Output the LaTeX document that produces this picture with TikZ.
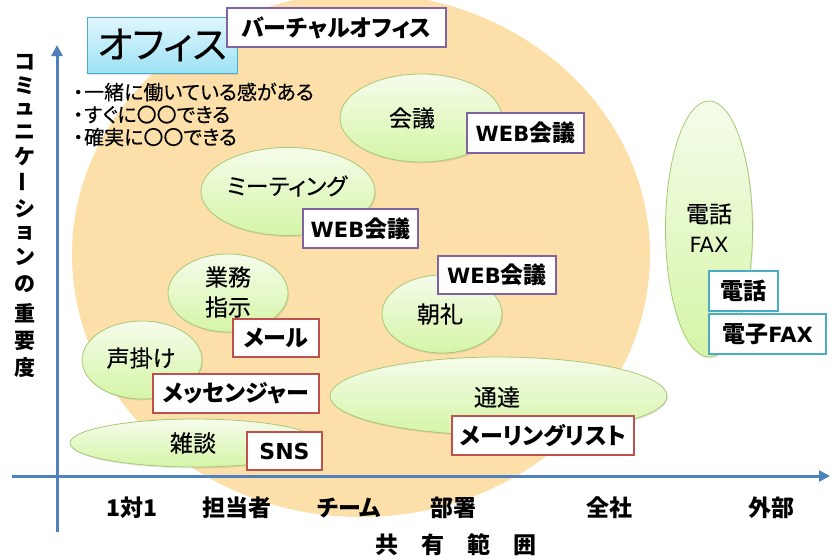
\documentclass[tikz,border=0pt]{standalone}
\usepackage{fontspec}
\setmainfont[RawFeature=+palt]{Noto Sans CJK JP}
\newfontfamily\jpmed[RawFeature=+palt,FakeBold=0.35]{Noto Sans CJK JP}
\newfontfamily\lat{DejaVu Sans}
\usetikzlibrary{shapes.geometric,arrows.meta,shadows}
\definecolor{axisblue}{RGB}{79,129,189}
\definecolor{peach}{RGB}{253,224,169}
\definecolor{elltop}{RGB}{245,252,235}
\definecolor{ellbot}{RGB}{213,245,166}
\definecolor{elledge}{RGB}{168,200,118}
\definecolor{boxred}{RGB}{192,80,77}
\definecolor{boxpurple}{RGB}{128,100,162}
\definecolor{boxcyan}{RGB}{75,172,198}
\definecolor{officetop}{RGB}{224,246,252}
\definecolor{officebot}{RGB}{158,226,245}
\begin{document}
\begin{tikzpicture}[x=1pt,y=-1pt,
  ell/.style={ellipse, draw=elledge, line width=0.8pt, top color=elltop, bottom color=ellbot, inner sep=0pt,
    drop shadow={opacity=0.18, shadow xshift=1pt, shadow yshift=-1.5pt}},
  elltext/.style={font=\fontsize{23}{30}\selectfont\jpmed, align=center, inner sep=0pt},
  tagbox/.style={rectangle, fill=white, line width=1.6pt, inner sep=0pt,
    font=\fontsize{23}{26}\selectfont\bfseries,
    drop shadow={opacity=0.25, shadow xshift=1.2pt, shadow yshift=-1.2pt}},
  axislabel/.style={font=\fontsize{23}{26}\selectfont\bfseries, inner sep=0pt},
  ylab/.style={font=\fontsize{21}{23}\selectfont\bfseries, inner sep=0pt},
  axisline/.style={draw=axisblue, line width=3pt, -{Triangle[length=11pt,width=11pt]}},
]
\useasboundingbox (0,0) rectangle (832,558);
% background ellipse
\begin{scope}
\clip (0,0) rectangle (832,558);
\fill[peach] (361,255) ellipse [x radius=289, y radius=262];
\end{scope}
% axes
\coordinate (vbot) at (57,532);
\coordinate (vtop) at (57,45);
\coordinate (hl) at (12,476);
\coordinate (hr) at (830,476);
\draw[axisline] (vbot) -- (vtop);
\draw[axisline] (hl) -- (hr);
% y label
\node[ylab] (y1) at (25,62) {コ};
\node[ylab] (y2) at (25,86) {ミ};
\node[ylab] (y3) at (25,109) {ュ};
\node[ylab] (y4) at (25,132) {ニ};
\node[ylab] (y5) at (25,156) {ケ};
\node[ylab] (y6) at (25,182) {\rotatebox{90}{ー}};
\node[ylab] (y7) at (25,209) {シ};
\node[ylab] (y8) at (25,233) {ョ};
\node[ylab] (y9) at (25,257) {ン};
\node[ylab] (y10) at (25,284) {の};
\node[ylab] (y11) at (25,313) {重};
\node[ylab] (y12) at (25,341) {要};
\node[ylab] (y13) at (25,368) {度};
% x labels
\node[axislabel] (x1) at (132,508) {1対1};
\node[axislabel] (x2) at (237,508) {担当者};
\node[axislabel] (x3) at (349,508) {チーム};
\node[axislabel] (x4) at (453,508) {部署};
\node[axislabel] (x5) at (609,508) {全社};
\node[axislabel] (x6) at (771,508) {外部};
\node[axislabel] (xt) at (456,545) {共\hspace{23pt}有\hspace{23pt}範\hspace{23pt}囲};
% office boxes
\node[rectangle, draw=boxcyan, line width=0.8pt, top color=officetop, bottom color=officebot,
  minimum width=150pt, minimum height=56pt, inner sep=0pt, font=\fontsize{38}{42}\selectfont\jpmed,
  drop shadow={opacity=0.2, shadow xshift=1.2pt, shadow yshift=-1.5pt}] (office) at (162,45) {オフィス};
\node[tagbox, draw=boxpurple, minimum width=219pt, minimum height=39pt] (virtual) at (336.5,27.5) {バーチャルオフィス};
% bullets
\node[anchor=west, align=left, inner sep=0pt, font=\fontsize{20}{22.5}\selectfont\jpmed] (bullets) at (72,114.5)
  {\makebox[12pt][c]{・}一緒に働いている感がある\\\makebox[12pt][c]{・}すぐに〇〇できる\\\makebox[12pt][c]{・}確実に〇〇できる};
% ellipses
\node[ell, minimum width=162pt, minimum height=88pt] (e1) at (421,118) {};
\node[elltext] (t1) at (412,118) {会議};
\node[ell, minimum width=174pt, minimum height=88pt] (e2) at (288,191.5) {};
\node[elltext] (t2) at (287,186) {ミーティング};
\node[ell, minimum width=120pt, minimum height=78pt] (e3) at (228,293) {};
\node[elltext] (t3) at (228,292) {業務\\指示};
\node[ell, minimum width=120pt, minimum height=78pt] (e4) at (142,360) {};
\node[elltext] (t4) at (141,358) {声掛け};
\node[ell, minimum width=250pt, minimum height=48pt] (e5) at (195,443) {};
\node[elltext] (t5) at (193,443) {雑談};
\node[ell, minimum width=120pt, minimum height=78pt] (e6) at (442,314) {};
\node[elltext] (t6) at (440,314) {朝礼};
\node[ell, minimum width=337pt, minimum height=78pt] (e7) at (498.5,396) {};
\node[elltext] (t7) at (497,397) {通達};
\node[ell, minimum width=87pt, minimum height=256pt] (e8) at (709,229) {};
\node[elltext] (t8) at (709,228) {電話\\{\lat\fontsize{21}{30}\selectfont FAX}};
% tag boxes
\node[tagbox, draw=boxpurple, minimum width=117pt, minimum height=40pt] (b1) at (525.5,133) {{\lat\fontsize{21}{26}\selectfont\bfseries WEB}会議};
\node[tagbox, draw=boxpurple, minimum width=115pt, minimum height=39pt] (b2) at (360.5,228.5) {{\lat\fontsize{21}{26}\selectfont\bfseries WEB}会議};
\node[tagbox, draw=boxpurple, minimum width=118pt, minimum height=38pt] (b3) at (497,275) {{\lat\fontsize{21}{26}\selectfont\bfseries WEB}会議};
\node[tagbox, draw=boxred, minimum width=86pt, minimum height=38pt] (b4) at (276,338) {メール};
\node[tagbox, draw=boxred, minimum width=166pt, minimum height=39pt] (b5) at (236,393.5) {メッセンジャー};
\node[tagbox, draw=boxred, minimum width=75pt, minimum height=38pt] (b6) at (284.5,451) {{\lat\fontsize{22}{26}\selectfont\bfseries SNS}};
\node[tagbox, draw=boxred, minimum width=182pt, minimum height=39pt] (b7) at (543,435.5) {メーリングリスト};
\node[tagbox, draw=boxcyan, minimum width=69pt, minimum height=40pt] (b8) at (743.5,291) {電話};
\node[tagbox, draw=boxcyan, minimum width=117pt, minimum height=40pt] (b9) at (767.5,334) {電子{\lat\fontsize{21}{26}\selectfont\bfseries FAX}};
\end{tikzpicture}
\end{document}
